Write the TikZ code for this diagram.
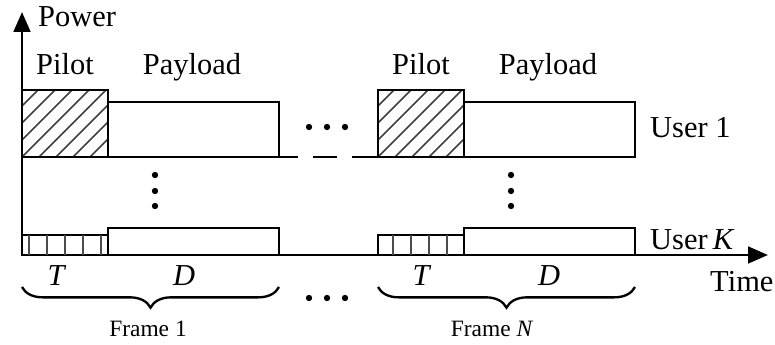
\documentclass[tikz,border=0pt]{standalone}
\usepackage{fontspec}
\setmainfont{Liberation Serif}
\usetikzlibrary{arrows.meta, decorations.pathreplacing, calc}
\tikzset{
  box/.style={line width=2.4pt, draw=black},
  axes/.style={line width=2.4pt, {Triangle[length=0.6cm, width=0.5cm]}-{Triangle[length=0.6cm, width=0.5cm]}},
  hatch/.style={line width=1.4pt, black!75},
  cell/.style={line width=1.3pt, black!70},
  lbl/.style={font=\fontsize{26}{30}\selectfont, inner sep=0pt},
  flbl/.style={font=\fontsize{20}{24}\selectfont, inner sep=0pt},
  brc/.style={line width=2pt, decorate, decoration={brace, amplitude=0.62cm}},
  dotnode/.style={circle, fill=black, inner sep=0pt, minimum size=0.19cm},
}

\begin{document}
\begin{tikzpicture}[x=0.03cm, y=-0.03cm]
  \useasboundingbox (0,0) rectangle (775,345);
  % axes
  \draw[axes] (22,12) -- (22,255) -- (768,255);
  \node[lbl, anchor=base west] (power) at (38,27) {Power};
  \node[lbl, anchor=base west] (time) at (710,292) {Time};
  % frames: start, label text, T/D/frame label offsets
  \foreach \f/\x/\name/\tx/\dx/\fx in {1/22/1/35/162/126, 2/378/\textit{N}/44/171/114}{
    % user 1: hatched pilot and payload
    \begin{scope}
      \clip (\x,157) rectangle ++(86,-67);
      \foreach \k in {-5,...,6}
        \draw[hatch] (\x+\k*17,157) -- ++(80,-80);
    \end{scope}
    \draw[box] (\x,157) rectangle ++(86,-67);
    \draw[box] (\x+86,157) rectangle ++(171,-55);
    % user K: cells and payload
    \draw[box] (\x,255) rectangle ++(86,-20);
    \draw[box] (\x+86,255) rectangle ++(171,-27);
    \node[lbl, anchor=base] (pilot\f) at (\x+43,75) {Pilot};
    \node[lbl, anchor=base] (payload\f) at (\x+170,75) {Payload};
    \node[lbl, anchor=base] (t\f) at (\x+\tx,286) {\textit{T}};
    \node[lbl, anchor=base] (d\f) at (\x+\dx,286) {\textit{D}};
    \draw[brc] (\x+257,287) -- (\x,287);
    \node[flbl, anchor=base] (frame\f) at (\x+\fx,337) {Frame \name};
    \foreach \k/\y in {1/175, 2/191, 3/206}
      \node[dotnode] (vd\f-\k) at (\x+133,\y) {};
  }
  % pilot cells of user K
  \foreach \c in {29,47,65,83,101,393,411,429,447}
    \draw[cell] (\c,255) -- (\c,235);
  % user 1 line between frames
  \draw[box] (22,157) -- (298,157);
  \draw[box] (313,157) -- (337,157);
  \draw[box] (352,157) -- (378,157);
  \foreach \k/\c in {1/309, 2/327, 3/345}{
    \node[dotnode] (hd\k) at (\c,127) {};
    \node[dotnode] (bd\k) at (\c,298) {};
  }
  \node[lbl, anchor=base west] (user1) at (650,138) {User 1};
  \node[lbl, anchor=base west] (userk) at (650,250) {User\,\textit{K}};
\end{tikzpicture}
\end{document}
